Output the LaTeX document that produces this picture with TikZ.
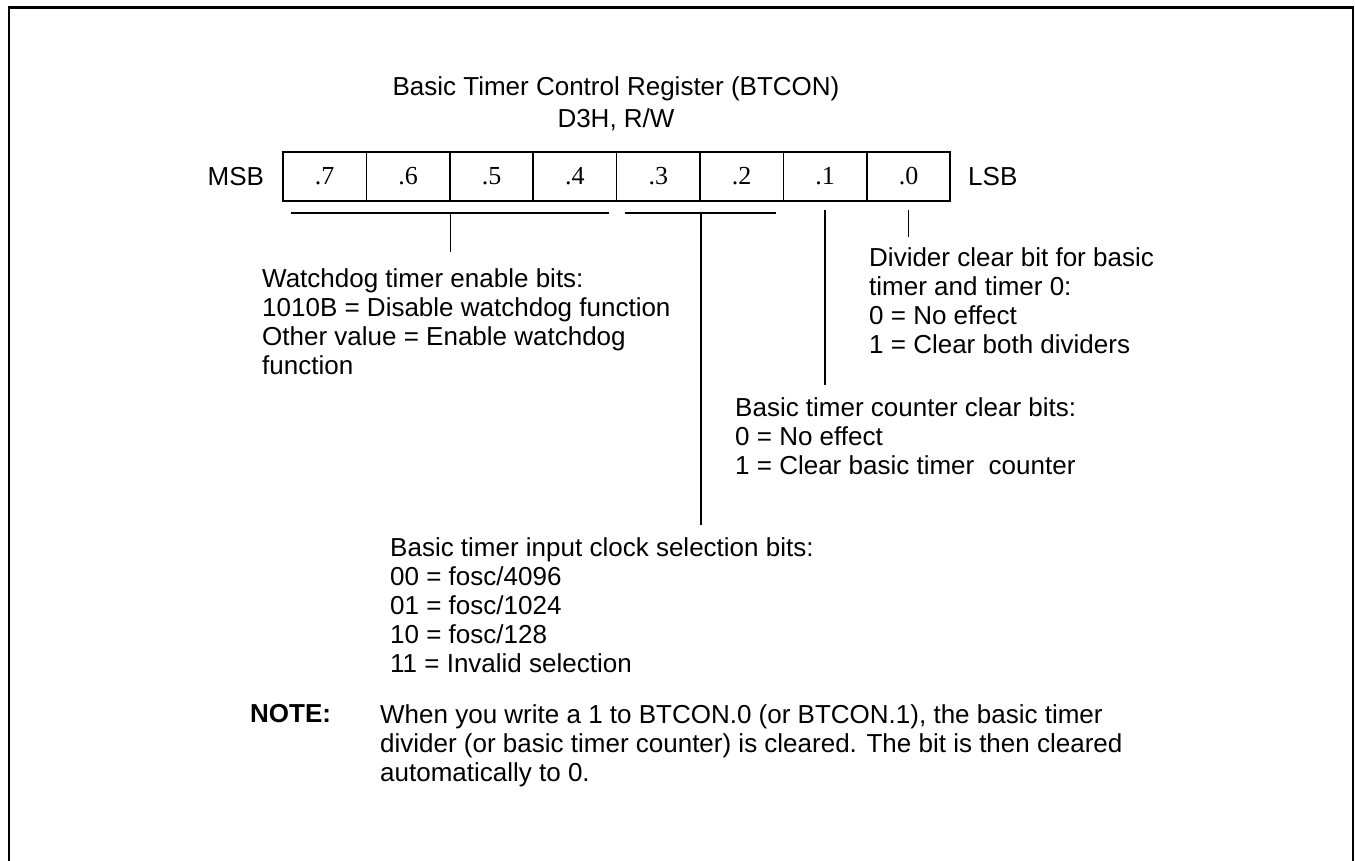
\documentclass[tikz,border=0pt]{standalone}
\usepackage{fontspec}
\setmainfont{Liberation Sans}
\newfontfamily\bitfont{Liberation Serif}
\usetikzlibrary{positioning,calc}

\begin{document}
\begin{tikzpicture}[x=1pt,y=-1pt,
  every node/.style={font=\fontsize{26}{29}\selectfont,inner sep=0pt},
  cell/.style={draw,line width=1.6pt,minimum width=83.4pt,minimum height=49pt,
    font=\fontsize{26}{29}\bitfont},
  lead/.style={line width=1.6pt},
  txt/.style={align=left,anchor=north west}
]
\useasboundingbox (0,0) rectangle (1355,861);
% frame, open at the bottom
\draw[line width=2.7pt] (9,861) -- (9,7.5) -- (1353,7.5) -- (1353,861);

\node[align=center,anchor=north,font=\fontsize{26}{32}\selectfont] (title) at (616,76)
  {Basic Timer Control Register (BTCON)\\D3H, R/W};

% register cells
\foreach \b in {7,...,0}{
  \pgfmathsetmacro\cx{283+83.4*(7-\b)+41.7}
  \node[cell] (b\b) at (\cx,176.5) {.\b};
}
\node[anchor=east] (msb) at ($(b7.west)+(-18,0)$) {MSB};
\node[anchor=west] (lsb) at ($(b0.east)+(17,0)$) {LSB};

% text blocks
\node[txt] (wd) at (262,268) {Watchdog timer enable bits:\\1010B = Disable watchdog function\\
  Other value = Enable watchdog\\function};
\node[txt] (dc) at (869,247) {Divider clear bit for basic\\timer and timer 0:\\
  0 = No effect\\1 = Clear both dividers};
\node[txt] (bc) at (735,397) {Basic timer counter clear bits:\\0 = No effect\\
  1 = Clear basic timer\ \ counter};
\node[txt] (ic) at (390,537) {Basic timer input clock selection bits:\\00 = fosc/4096\\
  01 = fosc/1024\\10 = fosc/128\\11 = Invalid selection};
\node[txt,font=\fontsize{26}{29}\bfseries] (note) at (250,704) {NOTE:};
\node[txt] (notetxt) at (380,704) {When you write a 1 to BTCON.0 (or BTCON.1), the basic timer\\
  divider (or basic timer counter) is cleared. The bit is then cleared\\automatically to 0.};

% brackets and leaders
\coordinate (wdm) at ($(b6.south east)+(0,11)$);
\coordinate (icm) at ($(b3.south east)+(0,11)$);
\draw[lead] ($(b7.south west)+(9,11)$) -- ($(b4.south east)+(-8,11)$);
\draw[lead] ($(b3.south west)+(9,11)$) -- ($(b2.south east)+(-8,11)$);
\draw[lead] (wdm) -- ($(wdm |- wd.north)+(0,-16)$);
\draw[lead] (icm) -- ($(icm |- ic.north)+(0,-12)$);
\draw[lead] ($(b1.south)+(0,8)$) -- ($(b1.south |- bc.north)+(0,-12)$);
\draw[lead] ($(b0.south)+(0,8)$) -- ($(b0.south |- dc.north)+(0,-10)$);
\end{tikzpicture}
\end{document}
